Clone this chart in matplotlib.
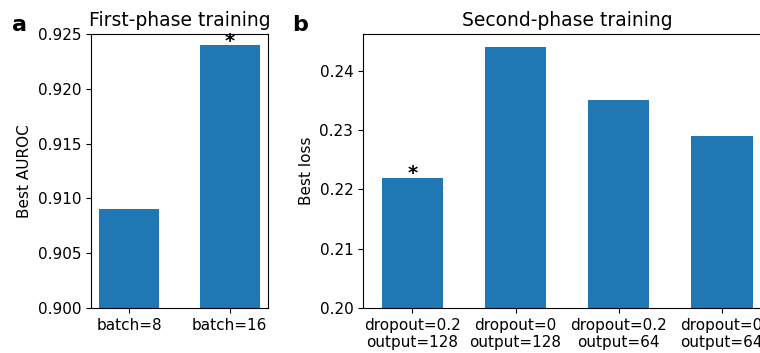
import matplotlib
matplotlib.use("Agg")
import matplotlib.pyplot as plt

# first phase
phase1_labels = ["batch=8", "batch=16"]
phase1_auroc = [0.909, 0.924]

# second phase
phase2_labels = ["dropout=0.2\noutput=128", "dropout=0\noutput=128",
                 "dropout=0.2\noutput=64", "dropout=0\noutput=64"]
phase2_loss = [0.222, 0.244, 0.235, 0.229]

plt.rcParams["font.size"] = 11

fig = plt.figure(figsize=(7.6, 3.53), dpi=100)
ax1 = fig.add_axes([0.1197, 0.1275, 0.2329, 0.7762])
ax2 = fig.add_axes([0.4776, 0.1275, 0.537, 0.7762])

x1 = range(len(phase1_labels))
ax1.bar(x1, phase1_auroc, width=0.6, color="#1f77b4")
ax1.set_ylim(0.9, 0.925)
ax1.set_xticks(list(x1))
ax1.set_xticklabels(phase1_labels)
ax1.set_yticks([0.900, 0.905, 0.910, 0.915, 0.920, 0.925])
ax1.set_ylabel("Best AUROC")
ax1.set_title("First-phase training", fontsize=13.5)
best1 = phase1_auroc.index(max(phase1_auroc))
ax1.annotate("*", (best1, phase1_auroc[best1]), xytext=(0, -4),
             textcoords="offset points", ha="center", va="bottom",
             fontsize=14, fontweight="bold")

x2 = range(len(phase2_labels))
ax2.bar(x2, phase2_loss, width=0.6, color="#1f77b4")
ax2.set_ylim(0.2, 0.2462)
ax2.set_xticks(list(x2))
ax2.set_xticklabels(phase2_labels)
ax2.set_yticks([0.20, 0.21, 0.22, 0.23, 0.24])
ax2.set_ylabel("Best loss")
ax2.set_title("Second-phase training", fontsize=13.5)
best2 = phase2_loss.index(min(phase2_loss))
ax2.annotate("*", (best2, phase2_loss[best2]), xytext=(0, -4),
             textcoords="offset points", ha="center", va="bottom",
             fontsize=14, fontweight="bold")

fig.text(0.016, 0.93, "a", fontsize=16, fontweight="bold", va="center")
fig.text(0.385, 0.93, "b", fontsize=16, fontweight="bold", va="center")

fig.savefig("out.png", dpi=100)
